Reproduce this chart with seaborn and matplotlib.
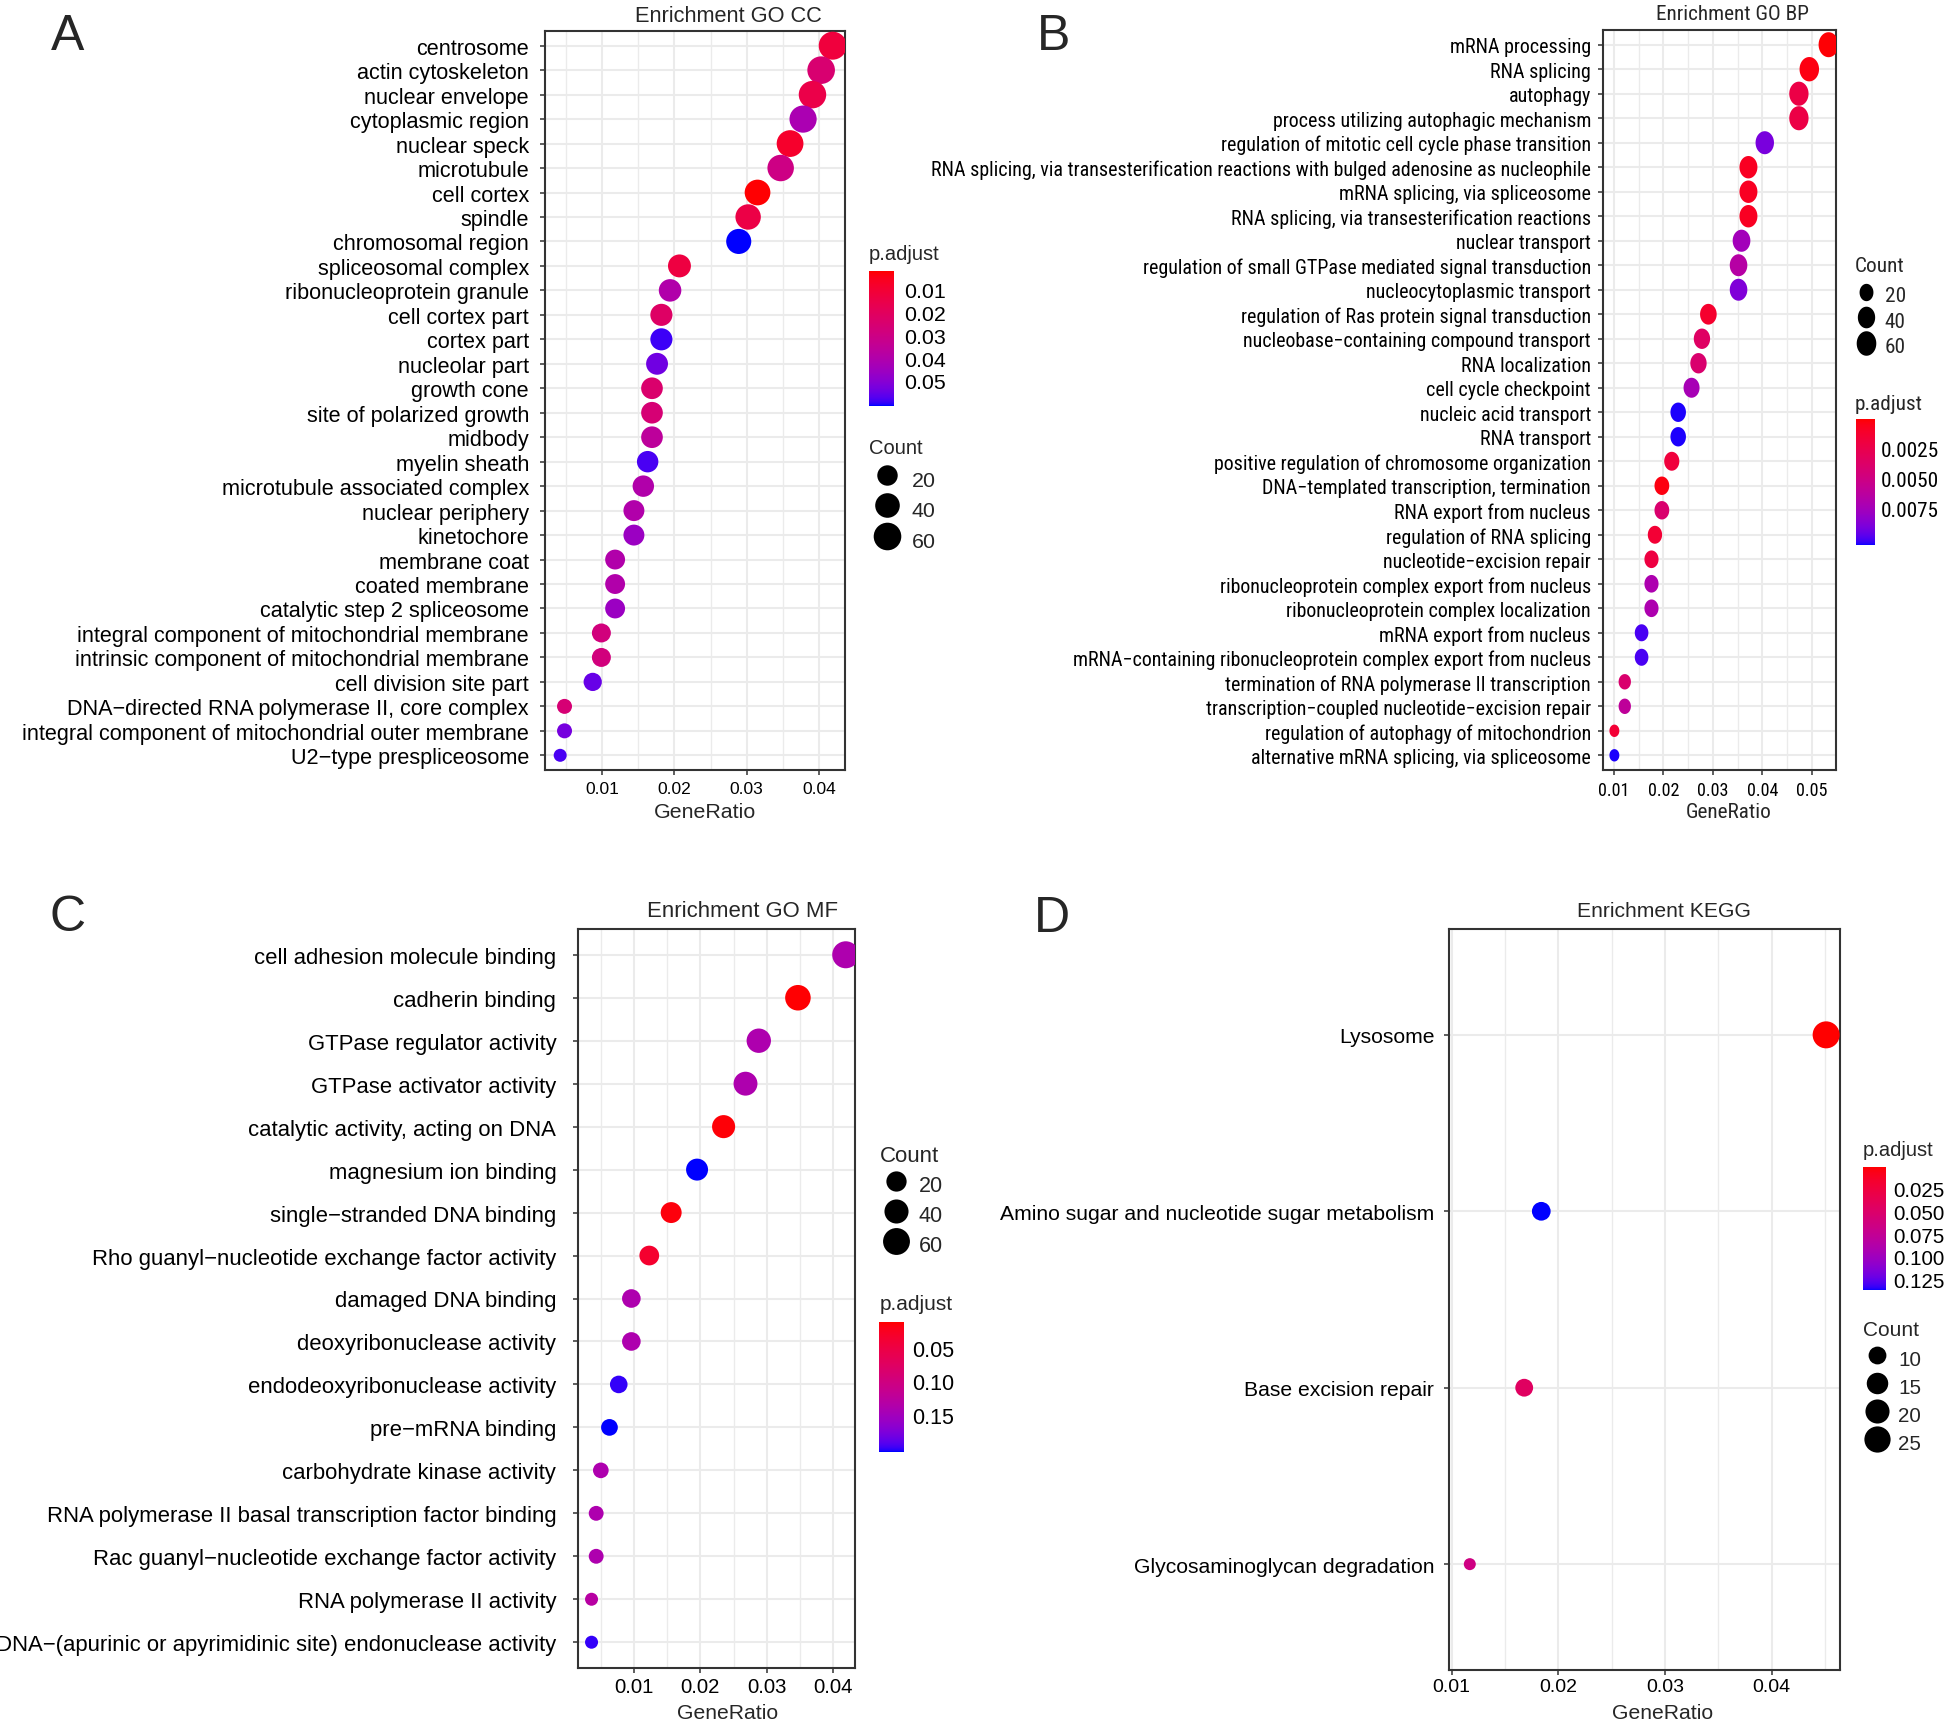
import numpy as np
import pandas as pd
import matplotlib
matplotlib.use("Agg")
import matplotlib.pyplot as plt
import seaborn as sns
from matplotlib import font_manager as fm
from matplotlib.colors import ListedColormap, Normalize
from matplotlib.cm import ScalarMappable
from matplotlib.lines import Line2D
from matplotlib.path import Path
from matplotlib.markers import MarkerStyle
from matplotlib.ticker import MultipleLocator, FixedLocator, FixedFormatter

M = "\u2212"

# ---------------- data ----------------
cc_terms = ["centrosome", "actin cytoskeleton", "nuclear envelope", "cytoplasmic region",
            "nuclear speck", "microtubule", "cell cortex", "spindle", "chromosomal region",
            "spliceosomal complex", "ribonucleoprotein granule", "cell cortex part", "cortex part",
            "nucleolar part", "growth cone", "site of polarized growth", "midbody", "myelin sheath",
            "microtubule associated complex", "nuclear periphery", "kinetochore", "membrane coat",
            "coated membrane", "catalytic step 2 spliceosome",
            "integral component of mitochondrial membrane",
            "intrinsic component of mitochondrial membrane", "cell division site part",
            "DNA" + M + "directed RNA polymerase II, core complex",
            "integral component of mitochondrial outer membrane", "U2" + M + "type prespliceosome"]
cc_ratio = [0.0419, 0.0403, 0.0391, 0.0378, 0.0360, 0.0347, 0.0315, 0.0302, 0.0289, 0.0207,
            0.0194, 0.0182, 0.0182, 0.0176, 0.0169, 0.0169, 0.0169, 0.0163, 0.0157, 0.0144,
            0.0144, 0.0118, 0.0118, 0.0118, 0.0099, 0.0099, 0.0087, 0.0048, 0.0048, 0.0042]
cc_count = [63, 60, 59, 57, 54, 52, 47, 45, 43, 31, 29, 27, 27, 26, 25, 25, 25, 24, 24, 22,
            22, 18, 18, 18, 15, 15, 13, 7, 7, 6]
cc_padj = [0.012, 0.025, 0.015, 0.042, 0.008, 0.030, 0.002, 0.014, 0.061, 0.013, 0.040, 0.022,
           0.059, 0.054, 0.024, 0.026, 0.036, 0.058, 0.040, 0.040, 0.046, 0.040, 0.040, 0.046,
           0.028, 0.028, 0.055, 0.026, 0.053, 0.058]

bp_terms = ["mRNA processing", "RNA splicing", "autophagy", "process utilizing autophagic mechanism",
            "regulation of mitotic cell cycle phase transition",
            "RNA splicing, via transesterification reactions with bulged adenosine as nucleophile",
            "mRNA splicing, via spliceosome", "RNA splicing, via transesterification reactions",
            "nuclear transport", "regulation of small GTPase mediated signal transduction",
            "nucleocytoplasmic transport", "regulation of Ras protein signal transduction",
            "nucleobase" + M + "containing compound transport", "RNA localization",
            "cell cycle checkpoint", "nucleic acid transport", "RNA transport",
            "positive regulation of chromosome organization",
            "DNA" + M + "templated transcription, termination", "RNA export from nucleus",
            "regulation of RNA splicing", "nucleotide" + M + "excision repair",
            "ribonucleoprotein complex export from nucleus",
            "ribonucleoprotein complex localization", "mRNA export from nucleus",
            "mRNA" + M + "containing ribonucleoprotein complex export from nucleus",
            "termination of RNA polymerase II transcription",
            "transcription" + M + "coupled nucleotide" + M + "excision repair",
            "regulation of autophagy of mitochondrion", "alternative mRNA splicing, via spliceosome"]
bp_ratio = [0.0534, 0.0495, 0.0474, 0.0474, 0.0405, 0.0372, 0.0372, 0.0372, 0.0358, 0.0352,
            0.0352, 0.0291, 0.0278, 0.0271, 0.0257, 0.0230, 0.0230, 0.0217, 0.0197, 0.0197,
            0.0183, 0.0176, 0.0176, 0.0176, 0.0156, 0.0156, 0.0122, 0.0122, 0.0101, 0.0101]
bp_count = [64, 59, 57, 57, 49, 45, 45, 45, 43, 42, 42, 35, 33, 33, 31, 28, 28, 26, 24, 24,
            22, 21, 21, 21, 19, 19, 15, 15, 12, 12]
bp_padj = [0.0001, 0.0003, 0.0022, 0.0022, 0.0090, 0.0008, 0.0008, 0.0008, 0.0075, 0.0065,
           0.0088, 0.0012, 0.0035, 0.0040, 0.0073, 0.0104, 0.0104, 0.0018, 0.0003, 0.0040,
           0.0015, 0.0020, 0.0070, 0.0070, 0.0100, 0.0100, 0.0040, 0.0060, 0.0015, 0.0104]

mf_terms = ["cell adhesion molecule binding", "cadherin binding", "GTPase regulator activity",
            "GTPase activator activity", "catalytic activity, acting on DNA", "magnesium ion binding",
            "single" + M + "stranded DNA binding",
            "Rho guanyl" + M + "nucleotide exchange factor activity", "damaged DNA binding",
            "deoxyribonuclease activity", "endodeoxyribonuclease activity", "pre" + M + "mRNA binding",
            "carbohydrate kinase activity", "RNA polymerase II basal transcription factor binding",
            "Rac guanyl" + M + "nucleotide exchange factor activity", "RNA polymerase II activity",
            "DNA" + M + "(apurinic or apyrimidinic site) endonuclease activity"]
mf_ratio = [0.0419, 0.0347, 0.0288, 0.0268, 0.0235, 0.0195, 0.0156, 0.0123, 0.0096, 0.0096,
            0.0077, 0.0063, 0.0050, 0.0043, 0.0043, 0.0036, 0.0036]
mf_count = [61, 50, 42, 39, 34, 28, 23, 18, 14, 14, 11, 9, 7, 6, 6, 5, 5]
mf_padj = [0.14, 0.013, 0.14, 0.14, 0.015, 0.205, 0.016, 0.035, 0.14, 0.14, 0.20, 0.205,
           0.14, 0.14, 0.14, 0.13, 0.20]

kegg_terms = ["Lysosome", "Amino sugar and nucleotide sugar metabolism", "Base excision repair",
              "Glycosaminoglycan degradation"]
kegg_ratio = [0.0451, 0.0184, 0.0168, 0.0117]
kegg_count = [27, 11, 10, 7]
kegg_padj = [0.002, 0.136, 0.045, 0.065]

# ---------------- style ----------------
sns.set_style("white")
plt.rcParams["font.family"] = ["Liberation Sans", "DejaVu Sans"]


def _has_font(name):
    try:
        fm.findfont(fm.FontProperties(family=name), fallback_to_default=False)
        return True
    except Exception:
        return False


NARROW = None
for _n in ["Liberation Sans Narrow", "Arial Narrow", "Roboto Condensed", "Open Sans Condensed"]:
    if _has_font(_n):
        NARROW = _n
        break
FAM = ["Liberation Sans", "DejaVu Sans"]
FAM_B = [NARROW, "Liberation Sans"] if NARROW else FAM
B_SCALE = 0.93 if NARROW else 0.78

W, H = 1952, 1724
DPI = 100
PX2PT = 72.0 / DPI
fig = plt.figure(figsize=(W / DPI, H / DPI), dpi=DPI)
fig.patch.set_facecolor("white")


def add_ax(l, t, r, b):
    return fig.add_axes([l / W, 1 - b / H, (r - l) / W, (b - t) / H])


# ---- red -> blue gradient interpolated in CIE Lab (ggplot2 style) ----
_M = np.array([[0.4124564, 0.3575761, 0.1804375],
               [0.2126729, 0.7151522, 0.0721750],
               [0.0193339, 0.1191920, 0.9503041]])
_WHITE = np.array([0.95047, 1.0, 1.08883])


def srgb_to_lab(c):
    c = np.asarray(c, float)
    lin = np.where(c <= 0.04045, c / 12.92, ((c + 0.055) / 1.055) ** 2.4)
    xyz = _M @ lin / _WHITE
    d = 6 / 29
    f = np.where(xyz > d ** 3, np.cbrt(xyz), xyz / (3 * d * d) + 4 / 29)
    return np.array([116 * f[1] - 16, 500 * (f[0] - f[1]), 200 * (f[1] - f[2])])


def lab_to_srgb(lab):
    L, a, b = lab
    fy = (L + 16) / 116
    fx = fy + a / 500
    fz = fy - b / 200
    d = 6 / 29

    def finv(t):
        return t ** 3 if t > d else 3 * d * d * (t - 4 / 29)

    xyz = np.array([finv(fx), finv(fy), finv(fz)]) * _WHITE
    lin = np.clip(np.linalg.solve(_M, xyz), 0, 1)
    c = np.where(lin <= 0.0031308, 12.92 * lin, 1.055 * lin ** (1 / 2.4) - 0.055)
    return np.clip(c, 0, 1)


_lab_r = srgb_to_lab([1, 0, 0])
_lab_b = srgb_to_lab([0, 0, 1])
CMAP = ListedColormap([lab_to_srgb(_lab_r + t * (_lab_b - _lab_r)) for t in np.linspace(0, 1, 256)])

# ellipse marker used for the horizontally squeezed panel B
_th = np.linspace(0, 2 * np.pi, 73)
ELLIPSE = MarkerStyle(Path(np.column_stack([0.8 * np.cos(_th), np.sin(_th)]), closed=True))

GRID = "#EBEBEB"
DARK = "#333333"


def size_fn(cmin, cmax, dmin, dmax):
    def f(c):
        t = (c - cmin) / (cmax - cmin)
        return (dmin + (dmax - dmin) * np.sqrt(max(t, 0))) * PX2PT  # diameter in points
    return f


def draw_panel(box, terms, ratio, count, padj, norm, xlim, xticks, sfn, marker,
               fs_y, fs_x, fam, ypad, xpad, xlabel_xy, fs_xl):
    ax = add_ax(*box)
    df = pd.DataFrame({"Description": terms, "GeneRatio": ratio,
                       "Count": count, "p.adjust": padj})
    sizes = {c: sfn(c) ** 2 for c in sorted(set(count))}
    sns.scatterplot(data=df, x="GeneRatio", y="Description", hue="p.adjust", size="Count",
                    palette=CMAP, hue_norm=norm, sizes=sizes, legend=False, ax=ax,
                    marker=marker, linewidth=0, edgecolor="none", zorder=3)
    n = len(terms)
    ax.set_ylim(n - 1 + 0.6, -0.6)
    ax.set_xlim(*xlim)
    ax.xaxis.set_major_locator(FixedLocator(xticks))
    ax.xaxis.set_major_formatter(FixedFormatter(["%.2f" % v for v in xticks]))
    ax.xaxis.set_minor_locator(MultipleLocator(0.005))
    ax.set_axisbelow(True)
    ax.grid(which="major", axis="both", color=GRID, lw=1.5)
    ax.grid(which="minor", axis="x", color=GRID, lw=1.0)
    for sp in ax.spines.values():
        sp.set_visible(True)
        sp.set_color(DARK)
        sp.set_linewidth(1.5)
    ax.tick_params(which="major", length=3.6, width=1.1, color=DARK, direction="out",
                   labelcolor="black", left=True, bottom=True)
    ax.tick_params(which="minor", length=0)
    ax.tick_params(axis="y", labelsize=fs_y, pad=ypad)
    ax.tick_params(axis="x", labelsize=fs_x, pad=xpad)
    for lab in ax.get_yticklabels() + ax.get_xticklabels():
        lab.set_family(fam)
    ax.set_ylabel("")
    ax.set_xlabel("GeneRatio", fontsize=fs_xl, family=fam)
    ax.xaxis.label.set_va("center")
    ax.xaxis.set_label_coords(xlabel_xy[0] / W, 1 - xlabel_xy[1] / H, transform=fig.transFigure)
    return ax


def colorbar(box, norm, ticks, labels, title_xy, fs_t, fs_l, fam, pad):
    cax = add_ax(*box)
    cb = fig.colorbar(ScalarMappable(norm=norm, cmap=CMAP), cax=cax)
    cb.outline.set_visible(False)
    cb.set_ticks(ticks)
    cb.set_ticklabels(labels)
    cax.invert_yaxis()
    cax.tick_params(axis="y", direction="in", length=5, width=1.2, color="white",
                    left=True, right=True, labelleft=False, labelright=True,
                    labelsize=fs_l, labelcolor="black", pad=pad)
    for lab in cax.get_yticklabels():
        lab.set_family(fam)
    fig.text(title_xy[0] / W, 1 - title_xy[1] / H, "p.adjust", ha="left", va="center",
             fontsize=fs_t, family=fam)


def count_legend(title_xy, first_y, spacing, values, sfn, marker, fs_t, fs_l, fam, hlen, htp):
    """Size legend: title at title_xy, rows centred from first_y every `spacing` px."""
    fig.text(title_xy[0] / W, 1 - title_xy[1] / H, "Count", ha="left", va="center",
             fontsize=fs_t, family=fam)
    fs_px = fs_l / PX2PT
    h = spacing / fs_px                  # row height in font-size units
    hh = (h - 0.245) / 0.65              # matplotlib handleheight giving that row height
    d = 0.35 * (hh - 0.7)
    top = first_y - (h - d) / 2.0 * fs_px
    handles = [Line2D([], [], ls="", marker=marker, color="black", markeredgewidth=0,
                      markersize=sfn(v)) for v in values]
    fig.legend(handles, [str(v) for v in values], loc="upper left",
               bbox_to_anchor=(title_xy[0] / W, 1 - top / H),
               bbox_transform=fig.transFigure, frameon=False, borderpad=0, borderaxespad=0,
               handlelength=hlen, handletextpad=htp, labelspacing=0.0, handleheight=hh,
               prop={"size": fs_l, "family": fam})


def title(xy, text, fs, fam):
    fig.text(xy[0] / W, 1 - xy[1] / H, text, ha="center", va="center", fontsize=fs, family=fam)


# ---------------- panel A : GO CC ----------------
sA = size_fn(min(cc_count), max(cc_count), 13, 28)
draw_panel((545, 32, 845, 771), cc_terms, cc_ratio, cc_count, cc_padj, Normalize(0.0017, 0.061),
           (0.0021, 0.0436), [0.01, 0.02, 0.03, 0.04], sA, "o", 15.6, 12.5, FAM, 8, 4.5,
           (705, 813), 15.4)
title((728, 17), "Enrichment GO CC", 15.7, FAM)
colorbar((869, 272, 894, 407), Normalize(0.0017, 0.061), [0.01, 0.02, 0.03, 0.04, 0.05],
         ["0.01", "0.02", "0.03", "0.04", "0.05"], (869, 255), 14.5, 15.4, FAM, 7)
count_legend((869, 449), 475.5, 30.5, [20, 40, 60], sA, "o", 14.5, 15.4, FAM, 1.7, 0.3)

# ---------------- panel B : GO BP ----------------
sB = size_fn(min(bp_count), max(bp_count), 12.4, 25)
draw_panel((1603, 31, 1836, 771), bp_terms, bp_ratio, bp_count, bp_padj, Normalize(0.00001, 0.0105),
           (0.0078, 0.0549), [0.01, 0.02, 0.03, 0.04, 0.05], sB, ELLIPSE, 15.5 * B_SCALE,
           14.0 * B_SCALE, FAM_B, 5, 4, (1729, 813), 16.5 * B_SCALE)
title((1732, 15), "Enrichment GO BP", 16.5 * B_SCALE, FAM_B)
count_legend((1855, 266), 292.5, 25.5, [20, 40, 60], sB, ELLIPSE, 16.5 * B_SCALE, 16.5 * B_SCALE,
             FAM_B, 1.0, 0.4)
colorbar((1856, 420, 1875, 546), Normalize(0.00001, 0.0105), [0.0025, 0.005, 0.0075],
         ["0.0025", "0.0050", "0.0075"], (1855, 404), 16.5 * B_SCALE, 16.5 * B_SCALE, FAM_B, 4)

# ---------------- panel C : GO MF ----------------
sC = size_fn(min(mf_count), max(mf_count), 13, 27)
draw_panel((578, 930, 855, 1669), mf_terms, mf_ratio, mf_count, mf_padj, Normalize(0.012, 0.205),
           (0.00156, 0.0433), [0.01, 0.02, 0.03, 0.04], sC, "o", 15.9, 14.6, FAM, 12, 3,
           (728, 1714), 15.2)
title((743, 912), "Enrichment GO MF", 15.9, FAM)
count_legend((880, 1156), 1181.5, 30, [20, 40, 60], sC, "o", 16, 15.5, FAM, 1.5, 0.3)
colorbar((879, 1323, 904, 1453), Normalize(0.012, 0.205), [0.05, 0.10, 0.15],
         ["0.05", "0.10", "0.15"], (880, 1305), 15, 15.5, FAM, 6)

# ---------------- panel D : KEGG ----------------
sD = size_fn(min(kegg_count), max(kegg_count), 12, 27)
draw_panel((1449, 930, 1840, 1671), kegg_terms, kegg_ratio, kegg_count, kegg_padj,
           Normalize(0.0019, 0.136), (0.00975, 0.0464), [0.01, 0.02, 0.03, 0.04], sD, "o",
           15.2, 14.0, FAM, 7, 2.5, (1663, 1714), 15.2)
title((1664, 912), "Enrichment KEGG", 15.2, FAM)
colorbar((1863, 1168, 1886, 1291), Normalize(0.0019, 0.136), [0.025, 0.05, 0.075, 0.10, 0.125],
         ["0.025", "0.050", "0.075", "0.100", "0.125"], (1863, 1151), 14.5, 14.9, FAM, 5)
count_legend((1863, 1331), 1355.5, 28, [10, 15, 20, 25], sD, "o", 15, 14.9, FAM, 1.4, 0.3)

# ---------------- panel letters ----------------
for (x, y, s) in [(68, 37, "A"), (1054, 37, "B"), (68, 918, "C"), (1052, 919, "D")]:
    fig.text(x / W, 1 - y / H, s, ha="center", va="center", fontsize=36, family=FAM)

fig.savefig("out.png", dpi=DPI, facecolor="white")
